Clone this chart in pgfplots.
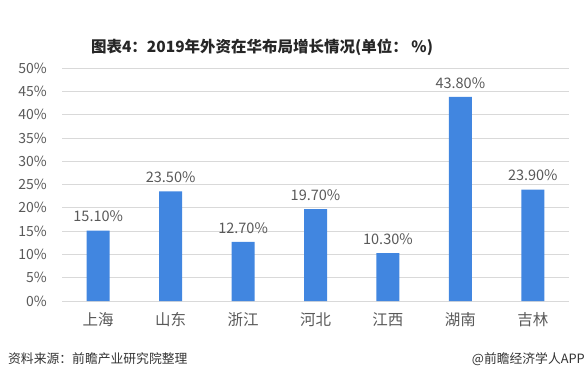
\documentclass[border=0pt]{standalone}
\usepackage{pgfplots}
\pgfplotsset{compat=1.18}
\usepackage{fontspec}
\setmainfont{Noto Sans CJK SC}
\definecolor{barblue}{RGB}{65,134,224}
\definecolor{lbl}{RGB}{89,89,89}
\definecolor{gridc}{RGB}{217,217,217}
\begin{document}
\begin{tikzpicture}[x=1pt,y=1pt]
\path (0,0) rectangle (585,380);
\begin{axis}[
  at={(62pt,79pt)}, anchor=south west,
  scale only axis, width=507pt, height=233pt,
  xmin=-0.5, xmax=6.5, ymin=0, ymax=50,
  ytick={0,5,...,50},
  xtick={0,...,6},
  xticklabels={上海,山东,浙江,河北,江西,湖南,吉林},
  /pgf/number format/assume math mode=true,
  yticklabel={\pgfmathprintnumber{\tick}\%},
  axis line style={draw=none},
  major tick length=0pt,
  ymajorgrids, grid style={gridc, line width=0.8pt},
  yticklabel style={anchor=east, inner sep=0pt, xshift=-15pt, font=\fontsize{14}{15}\selectfont, text=lbl},
  xticklabel style={anchor=center, inner sep=0pt, yshift=-19pt, font=\fontsize{15.5}{16}\selectfont, text=lbl},
  ybar, bar width=23pt,
  nodes near coords={\pgfmathprintnumber[fixed,fixed zerofill,precision=2]{\pgfplotspointmeta}\%},
  every node near coord/.append style={font=\fontsize{14.5}{15}\selectfont, text=lbl, yshift=5pt},
]
\addplot[fill=barblue, draw=none] coordinates {(0,15.10) (1,23.50) (2,12.70) (3,19.70) (4,10.30) (5,43.80) (6,23.90)};
\end{axis}
\node[font=\bfseries\fontsize{15.5}{16}\selectfont, text={rgb,255:red,38;green,38;blue,38}] at (262,333) {图表4：2019年外资在华布局增长情况(单位： \%)};
\node[anchor=west, font=\fontsize{12.8}{13}\selectfont, text={rgb,255:red,51;green,51;blue,51}, inner sep=0pt] at (8,21) {资料来源：前瞻产业研究院整理};
\node[anchor=east, font=\fontsize{12.8}{13}\selectfont, text={rgb,255:red,51;green,51;blue,51}, inner sep=0pt] at (585,21) {@前瞻经济学人APP};
\end{tikzpicture}
\end{document}
